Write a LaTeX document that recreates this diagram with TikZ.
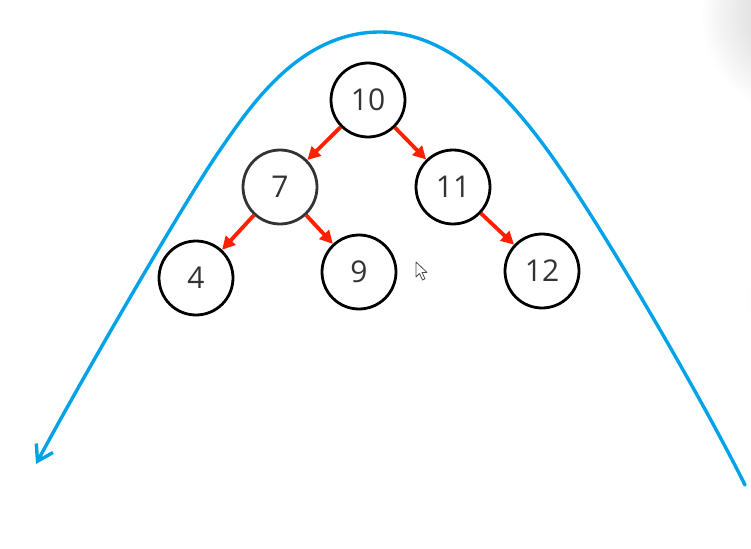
\documentclass[tikz,border=0pt]{standalone}
\usepackage{fontspec}
\setmainfont{Open Sans}
\usetikzlibrary{arrows.meta}
\definecolor{curveblue}{RGB}{0,162,232}
\definecolor{edgered}{RGB}{255,32,0}
\definecolor{txt}{RGB}{51,51,51}
\tikzset{
  treenode/.style={circle, draw=black, line width=2.8pt, fill=white, minimum size=74pt, inner sep=0pt, font=\fontsize{30}{32}\selectfont, text=txt},
  treeedge/.style={draw=edgered, line width=3.8pt, -{Triangle[length=13pt,width=13pt]}},
  hump/.style={draw=curveblue, line width=3.4pt, line cap=round, -{Straight Barb[length=15pt,width=19pt,line width=3.4pt]}}
}
\begin{document}
\begin{tikzpicture}[x=1pt,y=-1pt]
\useasboundingbox (0,0) rectangle (751,548);
\fill[white] (0,0) rectangle (751,548);
\begin{scope}
\clip (0,0) rectangle (751,548);
\shade[inner color=black!22, outer color=white] (800,15) circle (100);
\shade[inner color=black!6, outer color=white] (790,300) circle (45);
\end{scope}
\coordinate (rend) at (745,485);
\coordinate (rmid) at (560,168);
\coordinate (peak) at (380,32);
\coordinate (lmid) at (220,150);
\coordinate (lend) at (36,464);
\draw[hump] (rend) .. controls (700,395) and (610,241) .. (rmid)
  .. controls (510,95) and (450,32) .. (peak)
  .. controls (300,32) and (251,105) .. (lmid)
  .. controls (186,199) and (84,375) .. (lend);
\node[treenode] (n10) at (368,100) {10};
\node[treenode, draw=black!80] (n7) at (280,187) {7};
\node[treenode] (n11) at (453,187) {11};
\node[treenode] (n4) at (196,278) {4};
\node[treenode] (n9) at (359,272) {9};
\node[treenode] (n12) at (542,271) {12};
\draw[treeedge] (n10) -- (n7);
\draw[treeedge] (n10) -- (n11);
\draw[treeedge] (n7) -- (n4);
\draw[treeedge] (n7) -- (n9);
\draw[treeedge] (n11) -- (n12);
\coordinate (cur) at (416,262);
\draw[black!70, fill=white, line width=0.8pt, line join=round] (cur) -- ++(0,15) -- ++(3.5,-3.5) -- ++(3,6.5) -- ++(2.5,-1.2) -- ++(-3,-6.3) -- ++(5,0) -- cycle;
\end{tikzpicture}
\end{document}
